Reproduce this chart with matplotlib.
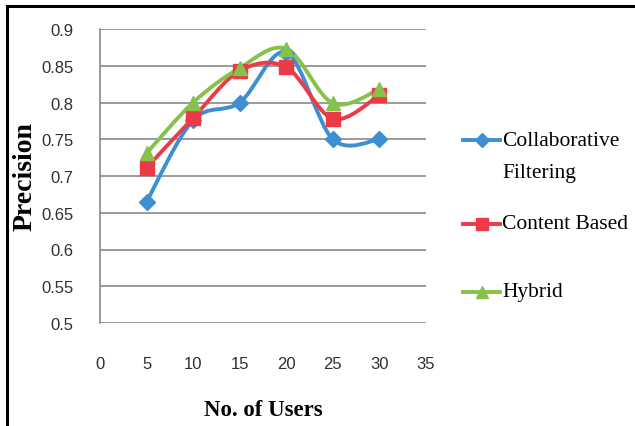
import matplotlib
matplotlib.use("Agg")
import matplotlib.pyplot as plt
from matplotlib.path import Path
from matplotlib.patches import PathPatch
from matplotlib.lines import Line2D
import numpy as np

users = [5, 10, 15, 20, 25, 30]
collaborative = [0.665, 0.776, 0.800, 0.868, 0.750, 0.750]
content_based = [0.711, 0.779, 0.843, 0.848, 0.778, 0.810]
hybrid = [0.731, 0.800, 0.847, 0.873, 0.799, 0.818]
series_names = ["Collaborative\nFiltering", "Content Based", "Hybrid"]
x_ticks = [0, 5, 10, 15, 20, 25, 30, 35]
y_ticks = [0.5, 0.55, 0.6, 0.65, 0.7, 0.75, 0.8, 0.85, 0.9]

colors = ["#3d8fd1", "#ec3b46", "#86c24a"]
markers = ["D", "s", "^"]
msizes = [8.5, 9.5, 10]

W, H = 635, 427
fig = plt.figure(figsize=(W / 100, H / 100), dpi=100)
ax = fig.add_axes([100 / W, 1 - 324 / H, (426 - 100) / W, (324 - 30) / H])


def smooth_path(xs, ys):
    pts = np.column_stack([xs, ys]).astype(float)
    n = len(pts)
    verts = [pts[0]]
    codes = [Path.MOVETO]
    for i in range(n - 1):
        p0 = pts[i - 1] if i > 0 else pts[i]
        p1 = pts[i]
        p2 = pts[i + 1]
        p3 = pts[i + 2] if i + 2 < n else pts[i + 1]
        c1 = p1 + (p2 - p0) / 6.0
        c2 = p2 - (p3 - p1) / 6.0
        verts += [c1, c2, p2]
        codes += [Path.CURVE4] * 3
    return Path(verts, codes)


for ys, c, m, ms in zip([collaborative, content_based, hybrid], colors, markers, msizes):
    ax.add_patch(PathPatch(smooth_path(users, ys), facecolor="none", edgecolor=c,
                           lw=2.8, capstyle="round", joinstyle="round", zorder=3))
    ax.plot(users, ys, linestyle="none", marker=m, markersize=ms, color=c,
            markeredgecolor=c, zorder=4)

ax.set_xlim(0, 35)
ax.set_ylim(0.5, 0.9)
ax.set_xticks(x_ticks)
ax.set_yticks(y_ticks)
ax.set_xticklabels([str(v) for v in x_ticks])
ax.set_yticklabels([("%g" % v) for v in y_ticks])
for lab in ax.get_xticklabels() + ax.get_yticklabels():
    lab.set_fontfamily(["Liberation Sans", "DejaVu Sans"])
    lab.set_fontsize(12)
    lab.set_color("#303030")
ax.tick_params(axis="both", length=0)
ax.tick_params(axis="y", pad=19)
ax.tick_params(axis="x", pad=24)
ax.grid(axis="y", color="#808080", lw=1.1)
ax.set_axisbelow(True)
for s in ["top", "right", "bottom"]:
    ax.spines[s].set_visible(False)
ax.spines["left"].set_color("#808080")
ax.spines["left"].set_linewidth(1.1)

serif = ["Liberation Serif", "DejaVu Serif"]
fig.text(263 / W, 1 - 411 / H, "No. of Users", ha="center", va="center",
         fontsize=16.5, fontweight="bold", family=serif)
fig.text(25 / W, 1 - 177 / H, "Precision", ha="center", va="center", rotation=90,
         fontsize=20, fontweight="bold", family=serif)

# legend
handle_y = [141, 225, 293]
text_lines = [[("Collaborative", 142), ("Filtering", 174)], [("Content Based", 225)], [("Hybrid", 293)]]
for hy, c, m, ms, lines in zip(handle_y, colors, markers, msizes, text_lines):
    fig.add_artist(Line2D([463 / W, 500 / W], [1 - hy / H, 1 - hy / H], color=c, lw=2.8,
                          transform=fig.transFigure))
    fig.add_artist(Line2D([481.5 / W], [1 - hy / H], color=c, marker=m, markersize=ms - 1,
                          transform=fig.transFigure))
    for t, ty in lines:
        fig.text(502 / W, 1 - ty / H, t, ha="left", va="center", fontsize=15.5, family=serif)

# frame lines (top and left)
fig.add_artist(Line2D([7 / W, 1.0], [1 - 7 / H, 1 - 7 / H], color="black", lw=2.2,
                      transform=fig.transFigure))
fig.add_artist(Line2D([7 / W, 7 / W], [0, 1 - 7 / H], color="black", lw=2.2,
                      transform=fig.transFigure))

fig.savefig("out.png", dpi=100)
